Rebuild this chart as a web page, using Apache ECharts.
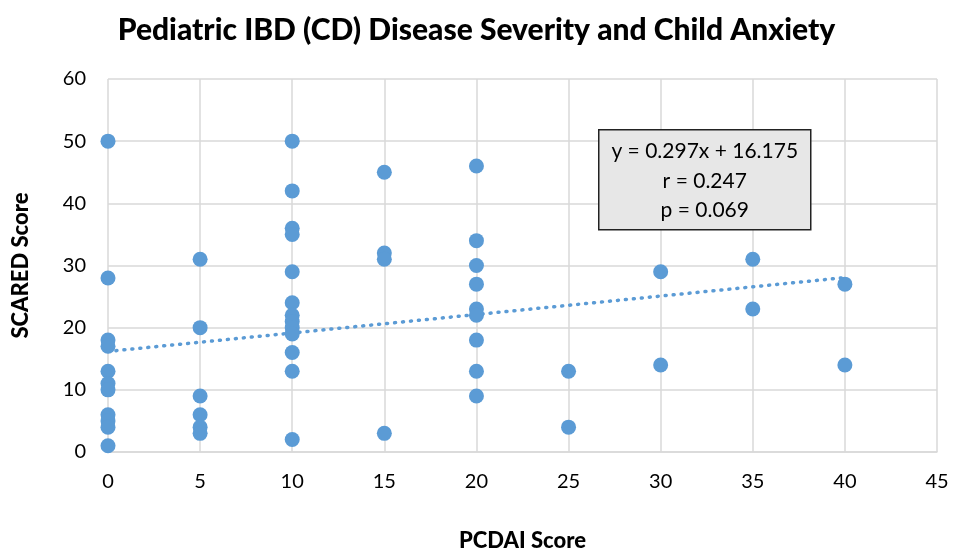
<!DOCTYPE html>
<html>
<head>
<meta charset="utf-8">
<script src="https://cdn.jsdelivr.net/npm/echarts@6/dist/echarts.min.js"></script>
<style>html,body{margin:0;padding:0;background:#fff;}#c{width:953px;height:550px;}</style>
</head>
<body>
<div id="c"></div>
<script>
// PCDAI score (x) and SCARED score (y) for each child
const pcdai = [
  0,0,0,0,0,0,0,0,0,0,0,
  5,5,5,5,5,5,
  10,10,10,10,10,10,10,10,10,10,10,10,10,
  15,15,15,15,
  20,20,20,20,20,20,20,20,20,
  25,25,
  30,30,
  35,35,
  40,40
];
const scared = [
  50,28,18,17,13,11,10,6,5,4,1,
  31,20,9,6,4,3,
  50,42,36,35,29,24,22,21,20,19,16,13,2,
  45,32,31,3,
  46,34,30,27,23,22,18,13,9,
  13,4,
  29,14,
  31,23,
  27,14
];
const trendSlope = 0.297;
const trendIntercept = 16.175;
const trendX = [0, 40];
const statLines = ['y = 0.297x + 16.175', 'r = 0.247', 'p = 0.069'];
const xTicks = [0,5,10,15,20,25,30,35,40,45];
const yTicks = [0,10,20,30,40,50,60];

const FONT = 'Lato, "Open Sans", sans-serif';
const blue = '#5B9BD5';
const points = pcdai.map((x, i) => [x, scared[i]]);
const trend = trendX.map(x => [x, trendSlope * x + trendIntercept]);

const chart = echarts.init(document.getElementById('c'));
chart.setOption({
  backgroundColor: '#fff',
  animation: false,
  title: {
    text: 'Pediatric IBD (CD) Disease Severity and Child Anxiety',
    left: 'center',
    top: 10,
    textStyle: { fontFamily: FONT, fontWeight: 900, fontSize: 30, color: '#000' }
  },
  grid: { left: 108, right: 16, top: 79, bottom: 98, containLabel: false, outerBoundsMode: 'none' },
  xAxis: {
    type: 'value', min: 0, max: 45, interval: 5,
    name: 'PCDAI Score', nameLocation: 'middle', nameGap: 78,
    nameTextStyle: { fontFamily: FONT, fontWeight: 900, fontSize: 22, color: '#000' },
    axisLine: { show: true, lineStyle: { color: '#d9d9d9', width: 1.5 } },
    axisTick: { show: false },
    axisLabel: { fontFamily: FONT, fontSize: 20, color: '#000', margin: 20 },
    splitLine: { show: true, lineStyle: { color: '#d9d9d9', width: 1.5 } }
  },
  yAxis: {
    type: 'value', min: 0, max: 60, interval: 10,
    name: 'SCARED Score', nameLocation: 'middle', nameGap: 76, nameRotate: 90,
    nameTextStyle: { fontFamily: FONT, fontWeight: 900, fontSize: 22, color: '#000' },
    axisLine: { show: false },
    axisTick: { show: false },
    axisLabel: { fontFamily: FONT, fontSize: 20, color: '#000', margin: 22 },
    splitLine: { show: true, lineStyle: { color: '#d9d9d9', width: 1.5 } }
  },
  series: [
    {
      type: 'line', data: trend, symbol: 'none', silent: true, z: 1,
      lineStyle: { color: blue, width: 3.5, type: [1, 7], cap: 'round' }
    },
    {
      type: 'scatter', data: points, symbol: 'circle', symbolSize: 15, z: 2,
      itemStyle: { color: blue, opacity: 1 }
    }
  ],
  graphic: [
    {
      type: 'group', left: 598, top: 129, z: 100,
      children: [
        { type: 'rect', z: 100, shape: { x: 0, y: 0, width: 212, height: 100 },
          style: { fill: '#e7e7e7', stroke: '#222', lineWidth: 1.5 } },
        { type: 'text', z: 101, style: { x: 106, y: 21, text: statLines[0], align: 'center', verticalAlign: 'middle',
          font: '21px ' + FONT, fill: '#000' } },
        { type: 'text', z: 101, style: { x: 106, y: 51, text: statLines[1], align: 'center', verticalAlign: 'middle',
          font: '21px ' + FONT, fill: '#000' } },
        { type: 'text', z: 101, style: { x: 106, y: 80, text: statLines[2], align: 'center', verticalAlign: 'middle',
          font: '21px ' + FONT, fill: '#000' } }
      ]
    }
  ]
});
</script>
</body>
</html>
